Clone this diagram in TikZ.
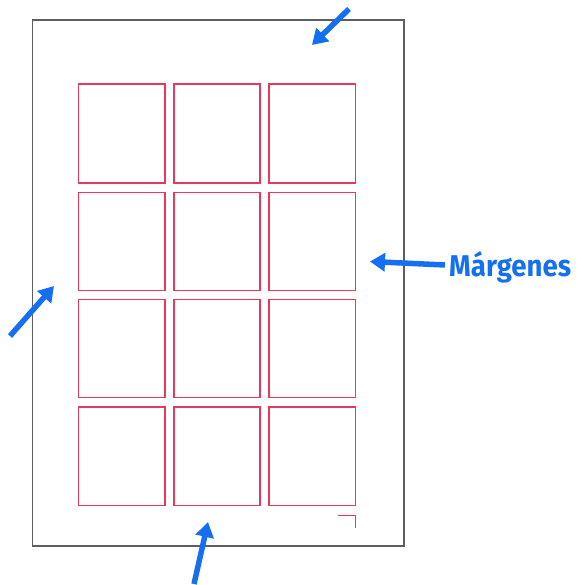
\documentclass[tikz,border=0pt]{standalone}
\usepackage{fontspec}
\setmainfont{Fira Sans}
\usetikzlibrary{arrows.meta}
\definecolor{pagegray}{HTML}{5E5E5E}
\definecolor{cellred}{HTML}{E8395C}
\definecolor{arrowblue}{HTML}{1470F0}
\tikzset{
  pageframe/.style={draw=pagegray, line width=1.4pt},
  cell/.style={draw=cellred, line width=1.3pt},
  pointer/.style={draw=arrowblue, line width=5.5pt, -{Triangle[length=15pt,width=18pt]}},
  labeltext/.style={text=arrowblue, font=\fontsize{30}{30}\selectfont\bfseries, inner sep=0pt, anchor=base west}
}
\begin{document}
\begin{tikzpicture}[x=1pt,y=-1pt]
\useasboundingbox (0,0) rectangle (577,585);
\draw[pageframe] (32.5,20) rectangle (404,546);
% grid of cells
\foreach \x/\xx [count=\i] in {78.5/165, 174/260, 269/355.3}{
  \foreach \y/\yy [count=\j] in {84/183, 192.3/290.3, 299.7/397.7, 407/505.7}{
    \draw[cell] (\x,\y) rectangle (\xx,\yy);
  }
}
% corner mark
\draw[cell] (338,515.3) -- (355.3,515.3) -- (355.3,528.3);
% arrows
\coordinate (ttail) at (349,9);
\coordinate (thead) at (312,45);
\coordinate (ltail) at (10,336);
\coordinate (lhead) at (54,286);
\coordinate (btail) at (194,584);
\coordinate (bhead) at (208,522);
\coordinate (rtail) at (445,265);
\coordinate (rhead) at (370,261.5);
\draw[pointer] (ttail) -- (thead);
\draw[pointer] (ltail) -- (lhead);
\draw[pointer] (btail) -- (bhead);
\draw[pointer] (rtail) -- (rhead);
\node[labeltext] (lbl) at (449,276) {\scalebox{0.92}[1]{Márgenes}};
\end{tikzpicture}
\end{document}
